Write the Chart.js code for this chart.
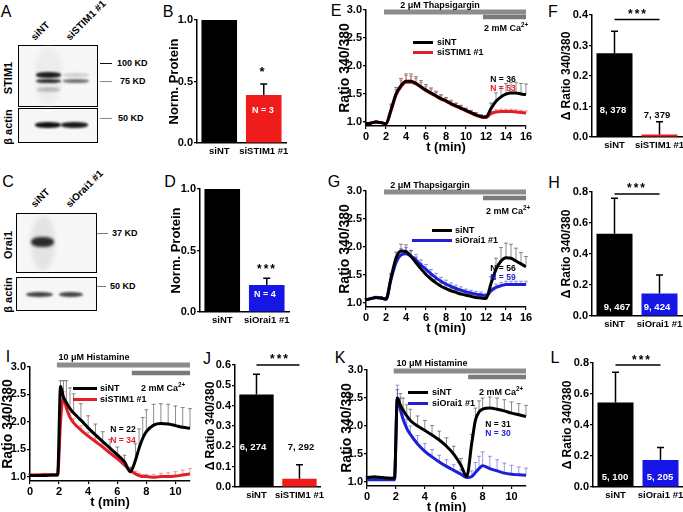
<!DOCTYPE html>
<html lang="en">
<head>
<meta charset="UTF-8" />
<title>STIM1 / Orai1 knockdown</title>
<style>
  body { margin: 0; background: #fff; font-family: "Liberation Sans", Arial, sans-serif; }
  #fig { position: relative; width: 683px; height: 512px; overflow: hidden; }
  canvas { position: absolute; }
  .t { position: absolute; white-space: nowrap; font-weight: bold; transform: translate(-50%, -50%); line-height: 1; }
  .lt { position: absolute; white-space: nowrap; font-weight: bold; transform: translateY(-50%); line-height: 1; }
  .letter { position: absolute; font-size: 16px; transform: translate(-50%, -50%); line-height: 1; }
  .box { position: absolute; border: 1.5px solid #000; background: #f7f7f7; box-sizing: border-box; }
  .band { position: absolute; border-radius: 45%; filter: blur(1.2px); }
  .mk { position: absolute; height: 1px; background: #333; }
  .rot { position: absolute; font-weight: bold; font-size: 10px; line-height: 12px; height: 12px;
         transform-origin: 0 100%; transform: rotate(-45deg); white-space: nowrap; }
  .vert { position: absolute; font-weight: bold; font-size: 11px; line-height: 1;
          transform: translate(-50%, -50%) rotate(-90deg); white-space: nowrap; }
  .sw { position: absolute; height: 2.5px; }
  sup { font-size: 70%; vertical-align: super; line-height: 0; }
</style>
</head>
<body>
<div id="fig">
  <!-- panel letters -->
  <div class="letter" style="left:6px;top:12px">A</div>
  <div class="letter" style="left:168px;top:12px">B</div>
  <div class="letter" style="left:336px;top:11px">E</div>
  <div class="letter" style="left:553px;top:12px">F</div>
  <div class="letter" style="left:8px;top:182px">C</div>
  <div class="letter" style="left:170px;top:182px">D</div>
  <div class="letter" style="left:334px;top:182px">G</div>
  <div class="letter" style="left:554px;top:183px">H</div>
  <div class="letter" style="left:8px;top:357px">I</div>
  <div class="letter" style="left:207px;top:359px">J</div>
  <div class="letter" style="left:340px;top:358px">K</div>
  <div class="letter" style="left:555px;top:358px">L</div>

  <!-- blot A -->
  <div class="rot" style="left:37px;top:31px">siNT</div>
  <div class="rot" style="left:72px;top:31px">siSTIM1 #1</div>
  <div class="box" style="left:18px;top:45px;width:80px;height:62px"></div>
  <div class="band" style="left:35px;top:48px;width:27px;height:56px;background:#ececec;filter:blur(2px)"></div>
  <div class="band" style="left:36px;top:72px;width:25px;height:6px;background:#1c1c1c"></div>
  <div class="band" style="left:36px;top:79px;width:25px;height:4px;background:#2a2a2a"></div>
  <div class="band" style="left:37px;top:87px;width:23px;height:5px;background:#bbb"></div>
  <div class="band" style="left:63px;top:73px;width:26px;height:4px;background:#cfcfcf"></div>
  <div class="band" style="left:63px;top:79px;width:26px;height:4px;background:#707070"></div>
  <div class="box" style="left:18px;top:108px;width:80px;height:35px"></div>
  <div class="band" style="left:35px;top:122px;width:26px;height:6px;background:#111"></div>
  <div class="band" style="left:61px;top:122px;width:27px;height:6px;background:#1a1a1a"></div>
  <div class="mk" style="left:100px;top:63px;width:12px;background:#111"></div>
  <div class="mk" style="left:100px;top:81px;width:12px;background:#888"></div>
  <div class="mk" style="left:100px;top:118px;width:12px;background:#888"></div>
  <div class="lt" style="left:117px;top:63px;font-size:9px">100 KD</div>
  <div class="lt" style="left:120px;top:81px;font-size:9px">75 KD</div>
  <div class="lt" style="left:118px;top:118px;font-size:9px">50 KD</div>
  <div class="vert" style="left:8px;top:78px">STIM1</div>
  <div class="vert" style="left:8px;top:127px">β actin</div>

  <!-- blot C -->
  <div class="rot" style="left:37px;top:198px">siNT</div>
  <div class="rot" style="left:72px;top:198px">siOrai1 #1</div>
  <div class="box" style="left:16px;top:213px;width:81px;height:60px"></div>
  <div class="band" style="left:31px;top:216px;width:24px;height:54px;background:#e4e4e4;filter:blur(2px)"></div>
  <div class="band" style="left:31px;top:237px;width:23px;height:10px;background:#2a2a2a;filter:blur(1.8px)"></div>
  <div class="box" style="left:16px;top:277px;width:81px;height:34px"></div>
  <div class="band" style="left:26px;top:292px;width:27px;height:5px;background:#444"></div>
  <div class="band" style="left:59px;top:292px;width:24px;height:5px;background:#444"></div>
  <div class="mk" style="left:97px;top:233px;width:11px;background:#777"></div>
  <div class="mk" style="left:97px;top:286px;width:9px;background:#777"></div>
  <div class="lt" style="left:112px;top:233px;font-size:9px">37 KD</div>
  <div class="lt" style="left:110px;top:286px;font-size:9px">50 KD</div>
  <div class="vert" style="left:8px;top:245px">Orai1</div>
  <div class="vert" style="left:8px;top:295px">β actin</div>

  <canvas id="chartB"></canvas>
  <canvas id="chartD"></canvas>
  <canvas id="chartE"></canvas>
  <canvas id="chartF"></canvas>
  <canvas id="chartG"></canvas>
  <canvas id="chartH"></canvas>
  <canvas id="chartI"></canvas>
  <canvas id="chartJ"></canvas>
  <canvas id="chartK"></canvas>
  <canvas id="chartL"></canvas>

  <!-- E annotations -->
  <div class="t" style="left:440px;top:5px;font-size:9px">2 μM Thapsigargin</div>
  <div class="t" style="left:506px;top:28px;font-size:9px">2 mM Ca<sup>2+</sup></div>
  <div class="sw" style="left:413px;top:41px;width:20px;background:#000"></div>
  <div class="lt" style="left:437px;top:42px;font-size:9px">siNT</div>
  <div class="sw" style="left:413px;top:51px;width:20px;background:#e41e26"></div>
  <div class="lt" style="left:437px;top:52px;font-size:9px">siSTIM1 #1</div>
  <div class="t" style="left:503px;top:79px;font-size:8.5px">N = 36</div>
  <div class="t" style="left:503px;top:88px;font-size:8.5px;color:#e41e26">N = 53</div>

  <!-- G annotations -->
  <div class="t" style="left:430px;top:185px;font-size:9px">2 μM Thapsigargin</div>
  <div class="t" style="left:508px;top:211px;font-size:9px">2 mM Ca<sup>2+</sup></div>
  <div class="sw" style="left:432px;top:229px;width:20px;background:#000"></div>
  <div class="lt" style="left:455px;top:230px;font-size:9px">siNT</div>
  <div class="sw" style="left:412px;top:239px;width:40px;background:#1f1fd6"></div>
  <div class="lt" style="left:455px;top:240px;font-size:9px">siOrai1 #1</div>
  <div class="t" style="left:503px;top:268px;font-size:8.5px">N = 56</div>
  <div class="t" style="left:503px;top:277px;font-size:8.5px;color:#1f1fd6">N = 59</div>

  <!-- I annotations -->
  <div class="t" style="left:94px;top:357px;font-size:9px">10 μM Histamine</div>
  <div class="t" style="left:163px;top:388px;font-size:9px">2 mM Ca<sup>2+</sup></div>
  <div class="sw" style="left:73px;top:387px;width:24px;background:#000"></div>
  <div class="lt" style="left:100px;top:388px;font-size:9px">siNT</div>
  <div class="sw" style="left:73px;top:398px;width:24px;background:#e41e26"></div>
  <div class="lt" style="left:100px;top:399px;font-size:9px">siSTIM1 #1</div>
  <div class="t" style="left:123px;top:429px;font-size:8.5px">N = 22</div>
  <div class="t" style="left:123px;top:440px;font-size:8.5px;color:#e41e26">N = 34</div>

  <!-- K annotations -->
  <div class="t" style="left:432px;top:363px;font-size:9px">10 μM Histamine</div>
  <div class="t" style="left:501px;top:392px;font-size:9px">2 mM Ca<sup>2+</sup></div>
  <div class="sw" style="left:408px;top:391px;width:20px;background:#000"></div>
  <div class="lt" style="left:432px;top:392px;font-size:9px">siNT</div>
  <div class="sw" style="left:408px;top:402px;width:20px;background:#1f1fd6"></div>
  <div class="lt" style="left:432px;top:403px;font-size:9px">siOrai1 #1</div>
  <div class="t" style="left:498px;top:424px;font-size:8.5px">N = 31</div>
  <div class="t" style="left:498px;top:433px;font-size:8.5px;color:#1f1fd6">N = 30</div>

  <!-- bar annotations -->
  <div class="t" style="left:262px;top:71px;font-size:13px">*</div>
  <div class="t" style="left:263px;top:110px;font-size:9px;color:#fff">N = 3</div>
  <div class="t" style="left:267px;top:269px;font-size:12px;letter-spacing:2px">***</div>
  <div class="t" style="left:265px;top:294px;font-size:9px;color:#fff">N = 4</div>
  <div class="t" style="left:638px;top:14px;font-size:12px;letter-spacing:2px">***</div>
  <div class="t" style="left:613px;top:110px;font-size:9.5px;color:#fff">8, 378</div>
  <div class="t" style="left:657px;top:115px;font-size:9.5px">7, 379</div>
  <div class="t" style="left:637px;top:188px;font-size:12px;letter-spacing:2px">***</div>
  <div class="t" style="left:617px;top:307px;font-size:9.5px;color:#fff">9, 467</div>
  <div class="t" style="left:657px;top:307px;font-size:9.5px;color:#fff">9, 424</div>
  <div class="t" style="left:280px;top:359px;font-size:12px;letter-spacing:2px">***</div>
  <div class="t" style="left:253px;top:447px;font-size:9.5px;color:#fff">6, 274</div>
  <div class="t" style="left:301px;top:447px;font-size:9.5px">7, 292</div>
  <div class="t" style="left:642px;top:360px;font-size:12px;letter-spacing:2px">***</div>
  <div class="t" style="left:615px;top:477px;font-size:9.5px;color:#fff">5, 100</div>
  <div class="t" style="left:660px;top:477px;font-size:9.5px;color:#fff">5, 205</div>
</div>

<script src="https://cdn.jsdelivr.net/npm/chart.js"></script>
<script>
  // ---- data ----
  const groupsSTIM = ["siNT", "siSTIM1 #1"];
  const groupsOrai = ["siNT", "siOrai1 #1"];

  // B / D: normalised protein
  const protSTIM = [1.0, 0.39];
  const protSTIMErr = [0, 0.09];
  const protOrai = [1.0, 0.22];
  const protOraiErr = [0, 0.055];

  // F, H, J, L: delta ratio
  const dF = [0.275, 0.008];
  const dFErr = [0.072, 0.042];
  const dH = [0.53, 0.145];
  const dHErr = [0.23, 0.12];
  const dJ = [0.455, 0.04];
  const dJErr = [0.1, 0.07];
  const dL = [0.545, 0.175];
  const dLErr = [0.195, 0.08];

  // E / G: thapsigargin traces
  const tTg = [0,0.5,1,1.5,2,2.5,3,3.5,4,4.5,5,5.5,6,6.5,7,7.5,8,8.5,9,9.5,10,10.5,11,11.5,12,12.5,13,13.5,14,14.5,15,15.5,16];
  const eNT =      [0.97,0.98,1.0,0.99,0.97,1.22,1.5,1.65,1.73,1.73,1.69,1.63,1.57,1.52,1.47,1.42,1.38,1.33,1.29,1.25,1.21,1.17,1.13,1.1,1.09,1.24,1.37,1.45,1.5,1.52,1.52,1.5,1.49];
  const eNTErr =   [0.02,0.02,0.02,0.02,0.02,0.1,0.12,0.13,0.13,0.13,0.12,0.11,0.1,0.09,0.08,0.07,0.06,0.06,0.05,0.05,0.04,0.04,0.04,0.03,0.03,0.1,0.15,0.18,0.19,0.19,0.19,0.19,0.19];
  const eSTIM =    [0.97,0.98,1.0,0.99,0.97,1.2,1.48,1.63,1.71,1.71,1.68,1.62,1.56,1.51,1.46,1.41,1.37,1.32,1.28,1.24,1.2,1.16,1.12,1.09,1.08,1.15,1.18,1.19,1.19,1.19,1.18,1.17,1.16];
  const eSTIMErr = [0.02,0.02,0.02,0.02,0.02,0.08,0.1,0.12,0.12,0.11,0.1,0.09,0.08,0.08,0.07,0.06,0.06,0.05,0.05,0.05,0.04,0.04,0.04,0.03,0.03,0.04,0.04,0.04,0.04,0.04,0.04,0.04,0.04];
  const gNT =      [1.06,1.08,1.1,1.09,1.07,1.45,1.8,1.93,1.92,1.83,1.72,1.61,1.51,1.43,1.36,1.3,1.26,1.22,1.19,1.16,1.14,1.12,1.1,1.09,1.08,1.35,1.6,1.75,1.81,1.8,1.75,1.7,1.65];
  const gNTErr =   [0.02,0.02,0.02,0.02,0.02,0.08,0.11,0.12,0.12,0.11,0.1,0.09,0.08,0.07,0.06,0.06,0.05,0.05,0.04,0.04,0.04,0.03,0.03,0.03,0.03,0.12,0.2,0.24,0.26,0.25,0.23,0.2,0.18];
  const gOrai =    [1.06,1.08,1.1,1.09,1.07,1.42,1.72,1.86,1.88,1.84,1.77,1.68,1.6,1.52,1.45,1.39,1.34,1.3,1.26,1.23,1.2,1.18,1.16,1.15,1.13,1.22,1.28,1.31,1.33,1.33,1.33,1.33,1.33];
  const gOraiErr = [0.02,0.02,0.02,0.02,0.02,0.08,0.1,0.11,0.11,0.1,0.1,0.09,0.09,0.08,0.08,0.07,0.07,0.06,0.06,0.06,0.05,0.05,0.05,0.05,0.04,0.05,0.06,0.06,0.06,0.06,0.06,0.06,0.06];

  // I / K: histamine traces
  const tHis = [0,0.5,1,1.5,1.9,2.1,2.3,2.5,2.75,3,3.5,4,4.5,5,5.5,6,6.5,6.9,7.25,7.5,7.75,8,8.5,9,9.5,10,10.5,11];
  const iNT =      [1.02,1.02,1.02,1.03,1.03,2.65,2.45,2.35,2.24,2.16,2.03,1.89,1.76,1.64,1.52,1.4,1.27,1.09,1.3,1.52,1.7,1.82,1.94,1.97,1.96,1.93,1.9,1.88];
  const iNTErr =   [0.02,0.02,0.02,0.02,0.02,0.1,0.3,0.4,0.38,0.35,0.3,0.22,0.2,0.18,0.16,0.14,0.12,0.08,0.3,0.35,0.38,0.4,0.38,0.36,0.36,0.36,0.36,0.36];
  const iSTIM =    [1.03,1.03,1.04,1.03,1.03,2.0,2.45,2.25,2.08,1.98,1.85,1.74,1.64,1.54,1.43,1.33,1.21,1.11,1.05,1.02,1.0,1.0,0.99,1.0,1.0,1.01,1.03,1.05];
  const iSTIMErr = [0.02,0.02,0.02,0.02,0.02,0.05,0.1,0.1,0.09,0.08,0.08,0.07,0.07,0.06,0.06,0.06,0.05,0.05,0.05,0.04,0.04,0.04,0.05,0.06,0.07,0.08,0.09,0.1];
  const kNT =      [1.08,1.09,1.08,1.07,1.07,2.5,2.38,2.28,2.18,2.1,2.0,1.92,1.84,1.75,1.64,1.5,1.3,1.1,1.7,2.1,2.25,2.3,2.32,2.3,2.27,2.23,2.2,2.17];
  const kNTErr =   [0.02,0.02,0.02,0.02,0.02,0.15,0.2,0.22,0.2,0.2,0.18,0.18,0.17,0.16,0.15,0.14,0.12,0.05,0.15,0.22,0.2,0.2,0.2,0.2,0.2,0.2,0.2,0.2];
  const kOrai =    [1.04,1.04,1.04,1.04,1.04,2.5,2.3,2.12,1.96,1.85,1.68,1.55,1.45,1.36,1.28,1.21,1.14,1.08,1.1,1.17,1.24,1.29,1.24,1.2,1.16,1.14,1.13,1.12];
  const kOraiErr = [0.02,0.02,0.02,0.02,0.02,0.23,0.2,0.18,0.16,0.15,0.15,0.14,0.13,0.12,0.12,0.1,0.08,0.05,0.1,0.18,0.22,0.25,0.22,0.2,0.18,0.16,0.14,0.13];

  // treatment periods (min)
  const thapsigargin = [1.8, 16];
  const calciumTg = [11.7, 16];
  const histamine = [1.85, 11];
  const calciumHis = [7.0, 11];

  const RED = "#e41e26";
  const BLUE = "#1f1fd6";
  const BAR_RED = "#f01c1c";
  const BAR_BLUE = "#1616e6";

  Chart.defaults.font.family = '"Liberation Sans", Arial, sans-serif';
  Chart.defaults.font.weight = "bold";
  Chart.defaults.color = "#000";
  Chart.defaults.animation = false;
  Chart.defaults.plugins.legend.display = false;
  Chart.defaults.plugins.tooltip.enabled = false;

  // upward error bars with caps
  function drawErrors(chart) {
    const ctx = chart.ctx;
    const yScale = chart.scales.y;
    chart.data.datasets.forEach((ds, i) => {
      if (!ds.errors) return;
      const meta = chart.getDatasetMeta(i);
      ctx.save();
      ctx.strokeStyle = ds.errorColor || "#000";
      ctx.lineWidth = ds.errorWidth || 1;
      meta.data.forEach((el, j) => {
        const e = ds.errors[j];
        if (!e) return;
        const raw = ds.data[j];
        const v = typeof raw === "object" ? raw.y : raw;
        const y0 = yScale.getPixelForValue(v);
        const y1 = yScale.getPixelForValue(v + e);
        const cap = ds.errorCap || 2;
        ctx.beginPath();
        ctx.moveTo(el.x, y0);
        ctx.lineTo(el.x, y1);
        ctx.moveTo(el.x - cap, y1);
        ctx.lineTo(el.x + cap, y1);
        ctx.stroke();
      });
      ctx.restore();
    });
  }
  const errorBars = {
    id: "errorBars",
    beforeDatasetsDraw(chart) { if (chart.config.type === "line") drawErrors(chart); },
    afterDatasetsDraw(chart) { if (chart.config.type === "bar") drawErrors(chart); }
  };

  // significance line between the two bars
  const sigLine = {
    id: "sigLine",
    afterDatasetsDraw(chart, args, opts) {
      if (opts.y == null) return;
      const meta = chart.getDatasetMeta(0);
      const y = chart.scales.y.getPixelForValue(opts.y);
      const ctx = chart.ctx;
      ctx.save();
      ctx.strokeStyle = "#000";
      ctx.lineWidth = 1.5;
      ctx.beginPath();
      ctx.moveTo(meta.data[0].x, y);
      ctx.lineTo(meta.data[1].x, y);
      ctx.stroke();
      ctx.restore();
    }
  };

  function place(id, area, yW, xH) {
    const pad = { top: 8, right: 8, bottom: 2, left: 0 };
    const c = document.getElementById(id);
    c.width = Math.round(area.r - area.l + yW + pad.left + pad.right);
    c.height = Math.round(area.b - area.t + xH + pad.top + pad.bottom);
    c.style.left = (area.l - yW - pad.left) + "px";
    c.style.top = (area.t - pad.top) + "px";
    return { canvas: c, pad };
  }

  function pts(t, v) {
    return t.map((x, i) => ({ x: x, y: v[i] }));
  }

  function periodLine(period, level, color, width) {
    return {
      data: [{ x: period[0], y: level }, { x: period[1], y: level }],
      borderColor: color, borderWidth: width, pointRadius: 0,
      borderCapStyle: "butt", clip: false
    };
  }

  function traceChart(id, area, o) {
    const xH = 29;
    const { canvas, pad } = place(id, area, o.yW, xH);
    const datasets = [
      periodLine(o.drug, o.drugLevel, "#8c8c8c", 5),
      periodLine(o.drug, o.drugLevel, "#d2d2d2", 3),
      periodLine(o.ca, o.caLevel, "#7a7a7a", 4.5),
      { data: pts(o.t, o.ctrl), borderColor: "#000", borderWidth: 3, pointRadius: 0,
        cubicInterpolationMode: "monotone", errors: o.ctrlErr, errorColor: "rgba(0,0,0,0.45)" },
      { data: pts(o.t, o.kd), borderColor: o.kdColor, borderWidth: 3, pointRadius: 0,
        cubicInterpolationMode: "monotone", errors: o.kdErr, errorColor: o.kdErrColor }
    ];
    new Chart(canvas, {
      type: "line",
      data: { datasets },
      options: {
        responsive: false,
        devicePixelRatio: 1,
        layout: { padding: pad },
        scales: {
          x: {
            type: "linear", min: 0, max: o.xMax,
            border: { color: "#000", width: 1.5 },
            grid: { drawOnChartArea: false, color: "#000", tickLength: 3, lineWidth: 1.2 },
            ticks: { stepSize: 2, includeBounds: false, padding: 1, maxRotation: 0, font: { size: 11 } },
            title: { display: true, text: "t (min)", font: { size: 13 }, padding: 0 },
            afterFit: s => { s.height = xH; }
          },
          y: {
            min: o.yMin, max: 3,
            border: { color: "#000", width: 1.5 },
            grid: { drawOnChartArea: false, color: "#000", tickLength: 3, lineWidth: 1.2 },
            ticks: { stepSize: 0.5, includeBounds: false, padding: 1, font: { size: 11 },
                     callback: v => v.toFixed(1) },
            title: { display: true, text: "Ratio 340/380", font: { size: 14 }, padding: 0 },
            afterFit: s => { s.width = o.yW; }
          }
        }
      },
      plugins: [errorBars]
    });
  }

  function barChart(id, area, o) {
    const xH = 16;
    const { canvas, pad } = place(id, area, o.yW, xH);
    new Chart(canvas, {
      type: "bar",
      data: {
        labels: o.labels,
        datasets: [{
          data: o.values, backgroundColor: ["#000", o.color],
          barPercentage: 0.8, categoryPercentage: 1.0,
          errors: o.errors, errorColor: "#000", errorWidth: 1.5, errorCap: 3.5
        }]
      },
      options: {
        responsive: false,
        devicePixelRatio: 1,
        layout: { padding: pad },
        plugins: { sigLine: { y: o.sig } },
        scales: {
          x: {
            border: { color: "#000", width: 1.5 },
            grid: { display: false, drawTicks: false, tickLength: 0 },
            ticks: { padding: 3, maxRotation: 0, autoSkip: false, font: { size: 9.5 } },
            afterFit: s => { s.height = xH; }
          },
          y: {
            min: 0, max: o.yMax,
            border: { color: "#000", width: 1.5 },
            grid: { drawOnChartArea: false, color: "#000", tickLength: 3, lineWidth: 1.2 },
            ticks: { stepSize: o.step, padding: 1, font: { size: 11 }, callback: v => v.toFixed(1) },
            title: { display: true, text: o.title, font: { size: o.titleSize }, padding: 0 },
            afterFit: s => { s.width = o.yW; }
          }
        }
      },
      plugins: [errorBars, sigLine]
    });
  }

  // ---- protein bars ----
  barChart("chartB", { l: 197, r: 286, t: 20, b: 143 }, {
    labels: groupsSTIM, values: protSTIM, errors: protSTIMErr, color: BAR_RED,
    yMax: 1, step: 0.5, yW: 30, title: "Norm. Protein", titleSize: 13, sig: null });
  barChart("chartD", { l: 200, r: 289, t: 189, b: 312 }, {
    labels: groupsOrai, values: protOrai, errors: protOraiErr, color: BAR_BLUE,
    yMax: 1, step: 0.5, yW: 31, title: "Norm. Protein", titleSize: 13, sig: null });

  // ---- delta ratio bars ----
  barChart("chartF", { l: 592, r: 681.5, t: 15, b: 137 }, {
    labels: groupsSTIM, values: dF, errors: dFErr, color: BAR_RED,
    yMax: 0.4, step: 0.1, yW: 33, title: "Δ Ratio 340/380", titleSize: 12, sig: 0.385 });
  barChart("chartH", { l: 592, r: 682, t: 192, b: 316 }, {
    labels: groupsOrai, values: dH, errors: dHErr, color: BAR_BLUE,
    yMax: 0.8, step: 0.2, yW: 33, title: "Δ Ratio 340/380", titleSize: 12, sig: 0.787 });
  barChart("chartJ", { l: 234.5, r: 320.5, t: 365, b: 487 }, {
    labels: groupsSTIM, values: dJ, errors: dJErr, color: BAR_RED,
    yMax: 0.6, step: 0.1, yW: 32, title: "Δ Ratio 340/380", titleSize: 12, sig: 0.6 });
  barChart("chartL", { l: 593, r: 683, t: 363, b: 487 }, {
    labels: groupsOrai, values: dL, errors: dLErr, color: BAR_BLUE,
    yMax: 0.8, step: 0.2, yW: 33, title: "Δ Ratio 340/380", titleSize: 12, sig: 0.787 });

  // ---- traces ----
  traceChart("chartE", { l: 366, r: 526, t: 10, b: 126 }, {
    t: tTg, ctrl: eNT, ctrlErr: eNTErr, kd: eSTIM, kdErr: eSTIMErr,
    kdColor: RED, kdErrColor: "rgba(228,30,38,0.45)",
    drug: thapsigargin, drugLevel: 2.965, ca: calciumTg, caLevel: 2.875,
    xMax: 16, yMin: 0.93, yW: 29 });
  traceChart("chartG", { l: 366, r: 526, t: 191, b: 307 }, {
    t: tTg, ctrl: gNT, ctrlErr: gNTErr, kd: gOrai, kdErr: gOraiErr,
    kdColor: BLUE, kdErrColor: "rgba(31,31,214,0.45)",
    drug: thapsigargin, drugLevel: 2.98, ca: calciumTg, caLevel: 2.875,
    xMax: 16, yMin: 0.93, yW: 29 });
  traceChart("chartI", { l: 30, r: 189.5, t: 367, b: 481.4 }, {
    t: tHis, ctrl: iNT, ctrlErr: iNTErr, kd: iSTIM, kdErr: iSTIMErr,
    kdColor: RED, kdErrColor: "rgba(228,30,38,0.45)",
    drug: histamine, drugLevel: 3.036, ca: calciumHis, caLevel: 2.89,
    xMax: 11, yMin: 0.92, yW: 30 });
  traceChart("chartK", { l: 367, r: 526, t: 370, b: 486 }, {
    t: tHis, ctrl: kNT, ctrlErr: kNTErr, kd: kOrai, kdErr: kOraiErr,
    kdColor: BLUE, kdErrColor: "rgba(31,31,214,0.45)",
    drug: histamine, drugLevel: 2.98, ca: calciumHis, caLevel: 2.875,
    xMax: 11, yMin: 0.93, yW: 28 });
</script>
</body>
</html>
